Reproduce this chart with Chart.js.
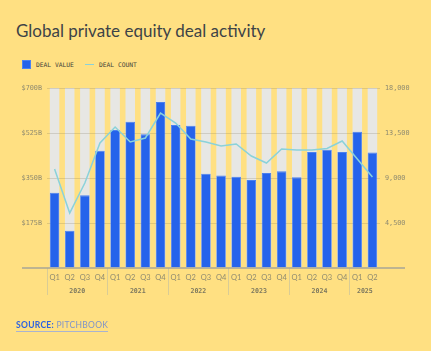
<!DOCTYPE html>
<html>
<head>
<meta charset="utf-8">
<script src="https://cdn.jsdelivr.net/npm/chart.js@4.4.1/dist/chart.umd.min.js"></script>
<style>
  html, body { margin: 0; padding: 0; }
  body { width: 431px; height: 351px; background: #ffe082; position: relative; overflow: hidden; }
  #title { position: absolute; left: 16px; top: 20px; font: 400 17px Lato, sans-serif; color: #3d4347; white-space: nowrap; }
  #legend { position: absolute; left: 22px; top: 59px; height: 11px; display: flex; align-items: center; font: 6.3px "DejaVu Sans Mono", monospace; color: #45443a; }
  .sw { display: inline-block; margin-right: 5px; }
  .item { display: flex; align-items: center; margin-right: 11px; }
  #chart { position: absolute; left: 0; top: 0; }
  #source { position: absolute; left: 16px; top: 320px; font: 700 8.5px Lato, sans-serif; letter-spacing: 0.3px; border-bottom: 1px solid #a9b3cf; padding-bottom: 1px; }
  #source .a { color: #2d62e0; }
  #source .b { color: #7f93c9; font-weight: 400; }
</style>
</head>
<body>
<div id="title">Global private equity deal activity</div>
<div id="legend"></div>
<canvas id="chart" width="431" height="351"></canvas>
<div id="source"><span class="a">SOURCE:</span> <span class="b">PITCHBOOK</span></div>
<script>
// ---- data ----
const quarters = ["Q1","Q2","Q3","Q4","Q1","Q2","Q3","Q4","Q1","Q2","Q3","Q4","Q1","Q2","Q3","Q4","Q1","Q2","Q3","Q4","Q1","Q2"];
const years = ["2020","2021","2022","2023","2024","2025"];
const yearSizes = [4,4,4,4,4,2];
const seriesNames = ["DEAL VALUE","DEAL COUNT"];
const dealValue = [293,145,283,456,537,569,520,646,556,553,367,360,355,342,369,376,353,451,460,451,530,449];
const dealCount = [9900,5500,8500,12500,14100,12600,13000,15500,14500,12900,12600,12200,12400,11200,10500,11900,11800,11800,11950,12700,10900,9100];
const valueTicks = [0,175,350,525,700];
const countTicks = [0,4500,9000,13500,18000];

// ---- derived ----
const yearStarts = []; const yearCenters = [];
{ let s = 0; for (const n of yearSizes) { yearStarts.push(s); yearCenters.push(s + (n - 1) / 2); s += n; } }

const BLUE = '#2563eb', TRACK = '#e7e7e4', LINE = '#8ad2da';
const TICK_FONT = { family: '"DejaVu Sans Mono", monospace', size: 6.8 };
const TICK_COLOR = '#8e8a70';

// legend from series names
const lg = document.getElementById('legend');
lg.innerHTML =
  `<span class="item"><span class="sw" style="width:9px;height:9px;background:${BLUE};box-shadow:inset 0 0 0 1px #4b82f2"></span>${seriesNames[0]}</span>` +
  `<span class="item"><span class="sw" style="width:9px;height:1.5px;background:${LINE}"></span>${seriesNames[1]}</span>`;

const decor = {
  id: 'decor',
  beforeDraw(chart) {
    const meta = chart.getDatasetMeta(0);
    const { ctx, chartArea } = chart;
    ctx.save();
    ctx.fillStyle = TRACK;
    meta.data.forEach(el => {
      const p = el.getProps(['x', 'width'], true);
      ctx.fillRect(p.x - p.width / 2, chartArea.top, p.width, chartArea.bottom - chartArea.top);
    });
    ctx.restore();
  },
  afterDatasetsDraw(chart) {
    const { ctx, chartArea } = chart;
    const y0 = chart.scales.y.getPixelForValue(0);
    ctx.save();
    ctx.strokeStyle = '#a7a696';
    ctx.lineWidth = 1.5;
    ctx.beginPath();
    ctx.moveTo(chartArea.left - 25, y0);
    ctx.lineTo(chartArea.right + 25, y0);
    ctx.stroke();
    ctx.restore();
  }
};

new Chart(document.getElementById('chart'), {
  data: {
    labels: quarters,
    datasets: [
      { type: 'bar', label: seriesNames[0], data: dealValue, yAxisID: 'y', xAxisID: 'x',
        backgroundColor: BLUE, borderColor: '#4a80f0', borderWidth: { top: 1, left: 0.6, right: 0.6, bottom: 0 },
        categoryPercentage: 1, barPercentage: 0.63, order: 2 },
      { type: 'line', label: seriesNames[1], data: dealCount, yAxisID: 'y1', xAxisID: 'x',
        borderColor: LINE, borderWidth: 1.5, pointRadius: 0, tension: 0, order: 1 }
    ]
  },
  options: {
    responsive: false,
    animation: false,
    devicePixelRatio: 1,
    layout: { padding: { top: 88, left: 0, right: 0, bottom: 53 } },
    plugins: { legend: { display: false }, tooltip: { enabled: false } },
    scales: {
      x: {
        type: 'category', position: 'bottom', offset: true,
        border: { display: false },
        grid: {
          display: true, drawOnChartArea: false, drawTicks: true, tickLength: 27, offset: true,
          lineWidth: 1,
          color: (c) => (yearStarts.includes(c.index) || c.index === quarters.length) ? '#d9cc95' : 'rgba(0,0,0,0)'
        },
        ticks: { padding: -22, autoSkip: false, maxRotation: 0, color: TICK_COLOR,
          font: { family: 'Lato, sans-serif', size: 7.5 } },
        afterFit: (s) => { s.height = 18; }
      },
      xYear: {
        type: 'linear', position: 'bottom', min: -0.5, max: quarters.length - 0.5,
        border: { display: false },
        grid: { display: false, drawTicks: false },
        afterBuildTicks: (s) => { s.ticks = yearCenters.map(v => ({ value: v })); },
        ticks: { padding: 1, autoSkip: false, maxRotation: 0, color: '#7b775f',
          font: { family: '"DejaVu Sans Mono", monospace', size: 6.6, weight: 'bold' },
          callback: (v, i) => years[i] },
        afterFit: (s) => { s.height = 12; }
      },
      y: {
        type: 'linear', position: 'left', min: 0, max: 700,
        border: { display: false },
        grid: { drawTicks: false, color: (c) => c.tick && c.tick.value === 0 ? 'rgba(0,0,0,0)' : 'rgba(120,110,80,0.22)', lineWidth: 1 },
        afterBuildTicks: (s) => { s.ticks = valueTicks.map(v => ({ value: v })); },
        ticks: { padding: 5, color: TICK_COLOR, font: TICK_FONT,
          callback: (v) => v === 0 ? '' : '$' + v + 'B' },
        afterFit: (s) => { s.width = 47; }
      },
      y1: {
        type: 'linear', position: 'right', min: 0, max: 18000,
        border: { display: false },
        grid: { display: false, drawTicks: false },
        afterBuildTicks: (s) => { s.ticks = countTicks.map(v => ({ value: v })); },
        ticks: { padding: 5, color: TICK_COLOR, font: TICK_FONT,
          callback: (v) => v === 0 ? '' : v.toLocaleString('en-US') },
        afterFit: (s) => { s.width = 51; }
      }
    }
  },
  plugins: [decor]
});
</script>
</body>
</html>
